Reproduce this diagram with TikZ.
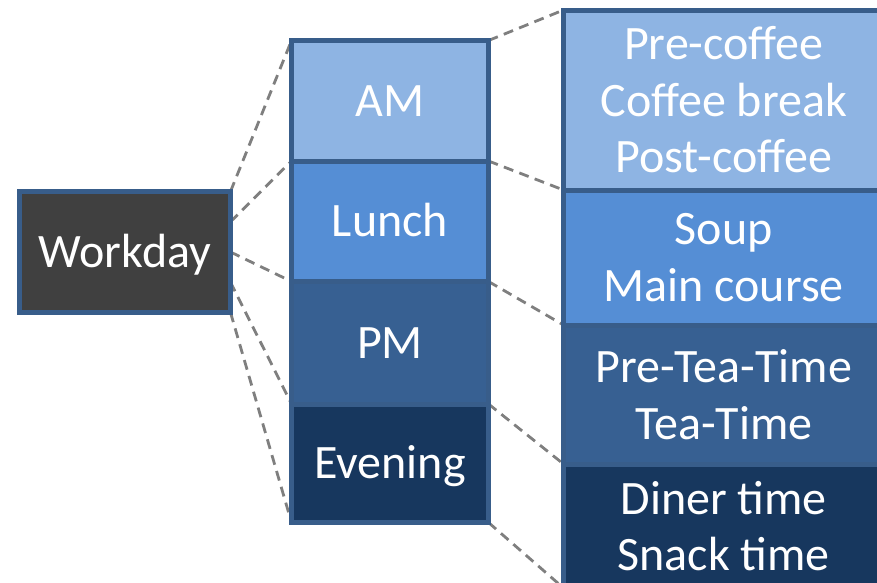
\documentclass[tikz,border=0pt]{standalone}
\usepackage{fontspec}
\setmainfont{Carlito}
\usetikzlibrary{backgrounds,calc}
\definecolor{bord}{HTML}{385D8A}
\definecolor{cam}{HTML}{8EB4E3}
\definecolor{clunch}{HTML}{558ED5}
\definecolor{cpm}{HTML}{376092}
\definecolor{ceve}{HTML}{17375E}
\definecolor{cwd}{HTML}{404040}
\definecolor{dashc}{HTML}{7F7F7F}
\begin{document}
\begin{tikzpicture}[x=1pt,y=-1pt,
  box/.style={draw=bord, line width=5pt, inner sep=0pt, outer sep=0pt, anchor=north west,
    text=white, align=center, font=\fontsize{48}{56.5}\selectfont},
  oneline/.style={text height=31pt, text depth=0pt},
  midbox/.style={box, oneline, minimum width=197pt},
  rightbox/.style={box, minimum width=320.5pt},
  link/.style={draw=dashc, line width=2.8pt, dash pattern=on 10pt off 6.5pt}]
\useasboundingbox (0,0) rectangle (877,582);
\clip (0,0) rectangle (877,582);
\node[box, oneline, fill=cwd, minimum width=211pt, minimum height=121pt] (wd) at (19.5,191.5) {Workday};
\node[midbox, fill=cam, minimum height=120.5pt] (am) at (291.5,40.5) {AM};
\node[midbox, fill=clunch, minimum height=120.5pt] (lunch) at (291.5,161) {Lunch};
\node[midbox, fill=cpm, minimum height=122.5pt] (pm) at (291.5,281.5) {PM};
\node[midbox, fill=ceve, minimum height=118.5pt] (eve) at (291.5,404) {Evening};
\node[rightbox, fill=cam, minimum height=180pt] (amd) at (563.5,10) {Pre-coffee\\Coffee break\\Post-coffee};
\node[rightbox, fill=clunch, minimum height=135pt] (lunchd) at (563.5,190) {Soup\\Main course};
\node[rightbox, fill=cpm, minimum height=139pt] (pmd) at (563.5,325) {Pre-Tea-Time\\Tea-Time};
\node[rightbox, fill=ceve, minimum height=124pt] (eved) at (563.5,464) {Diner time\\Snack time};
\begin{scope}[on background layer]
  \draw[link] (wd.north east) -- (am.north west);
  \draw[link] ($(wd.north east)!0.25!(wd.south east)$) -- (lunch.north west);
  \draw[link] ($(wd.north east)!0.5!(wd.south east)$) -- (pm.north west);
  \draw[link] ($(wd.north east)!0.75!(wd.south east)$) -- (eve.north west);
  \draw[link] (wd.south east) -- (eve.south west);
  \draw[link] (am.north east) -- (amd.north west);
  \draw[link] (am.south east) -- (amd.south west);
  \draw[link] (pm.north east) -- (pmd.north west);
  \draw[link] (eve.north east) -- (eved.north west);
  \draw[link] (eve.south east) -- (eved.south west);
\end{scope}
\end{tikzpicture}
\end{document}
